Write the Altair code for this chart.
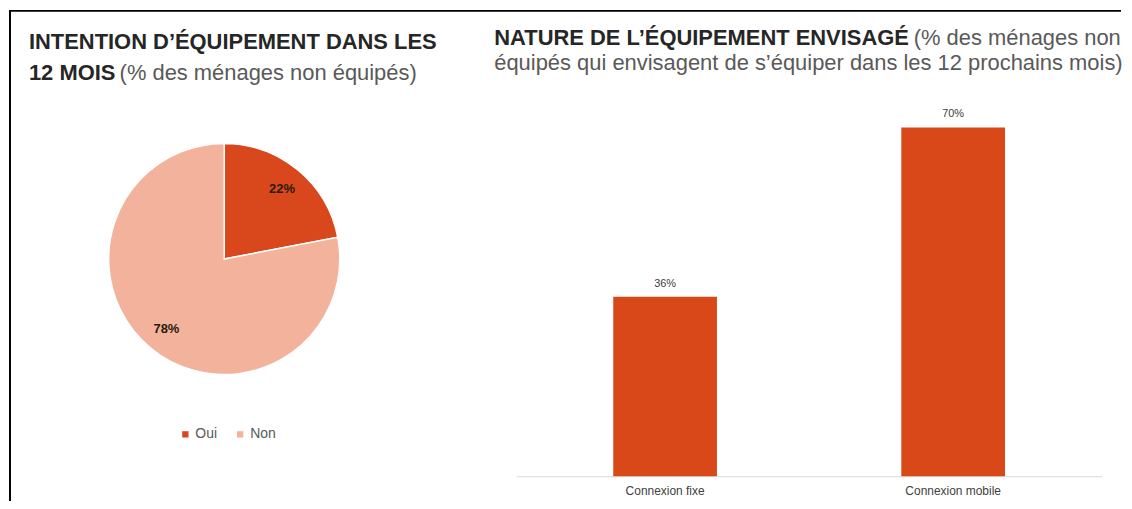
import altair as alt
import pandas as pd

# ---- data ----
pie_categories = ["Oui", "Non"]
pie_values = [22, 78]
pie_colors = ["#D9481C", "#F3B29B"]

bar_categories = ["Connexion fixe", "Connexion mobile"]
bar_values = [36, 70]
bar_color = "#D84818"

pie_df = pd.DataFrame({"cat": pie_categories, "value": pie_values, "ord": [0, 1]})
bar_df = pd.DataFrame({"cat": bar_categories, "value": bar_values})

W, H = 1116, 468
CX, CY = 216, 250

# ---- pie ----
pie_base = alt.Chart(pie_df).transform_calculate(label="datum.value + '%'")
arcs = pie_base.mark_arc(outerRadius=116, stroke="white", strokeWidth=1.5, x=CX, y=CY).encode(
    theta=alt.Theta("value:Q", stack=True),
    order=alt.Order("ord:Q"),
    color=alt.Color(
        "cat:N",
        scale=alt.Scale(domain=pie_categories, range=pie_colors),
        legend=alt.Legend(
            title=None, orient="none", legendX=170, legendY=419, direction="horizontal",
            symbolType="square", symbolSize=40, symbolStrokeWidth=0,
            labelFontSize=14, labelColor="#595959", labelFont="Liberation Sans",
            columnPadding=16, labelOffset=3, padding=0,
        ),
    ),
)
pie_text = pie_base.mark_text(radius=91, x=CX, y=CY, fontSize=13, fontWeight="bold",
                              font="Liberation Sans", color="#2a1a10").encode(
    theta=alt.Theta("value:Q", stack=True),
    order=alt.Order("ord:Q"),
    detail="cat:N",
    text="label:N",
)

# ---- bars ----
bar_base = alt.Chart(bar_df).transform_calculate(label="datum.value + '%'").encode(
    x=alt.X("cat:N", sort=bar_categories,
            scale=alt.Scale(range=[509, 1097], paddingInner=0.64, paddingOuter=0.337),
            axis=alt.Axis(title=None, ticks=False, labelAngle=0, labelPadding=9,
                          labelFontSize=12, labelColor="#404040", labelFont="Liberation Sans",
                          domainColor="#d9d9d9", domainWidth=1)),
    y=alt.Y("value:Q", scale=alt.Scale(domain=[0, 93.6]), axis=None),
)
bars = bar_base.mark_bar(color=bar_color)
bar_text = bar_base.mark_text(baseline="middle", dy=-13, fontSize=11,
                              font="Liberation Sans", color="#404040").encode(text="label:N")

# ---- titles ----
def txt(s, x, y, bold=False, color="#262626", size=22):
    return alt.Chart(pd.DataFrame({"t": [s]})).mark_text(
        align="left", baseline="alphabetic", fontSize=size, font="Liberation Sans",
        fontWeight="bold" if bold else "normal", color=color,
    ).encode(x=alt.value(x), y=alt.value(y), text="t:N")

titles = [
    txt("INTENTION D\u2019ÉQUIPEMENT DANS LES", 20, 39, bold=True),
    txt("12 MOIS", 20, 70, bold=True),
    txt("(% des ménages non équipés)", 111, 70, color="#595959"),
    txt("NATURE DE L\u2019ÉQUIPEMENT ENVISAGÉ", 487, 35, bold=True),
    txt("(% des ménages non", 908, 35, color="#595959"),
    txt("équipés qui envisagent de s\u2019équiper dans les 12 prochains mois)", 487, 60, color="#595959"),
]

# ---- frame ----
frame_left = alt.Chart(pd.DataFrame({"a": [0]})).mark_rule(color="#000000", strokeWidth=2).encode(
    x=alt.value(1), y=alt.value(0), y2=alt.value(493))
frame_top = alt.Chart(pd.DataFrame({"a": [0]})).mark_rule(color="#000000", strokeWidth=2).encode(
    x=alt.value(0), x2=alt.value(W), y=alt.value(1))

chart = alt.layer(
    frame_left, frame_top, arcs, pie_text, bars, bar_text, *titles
).properties(width=W, height=H, padding=0).configure_view(strokeWidth=0)

chart.save("out.html", embed_options={"renderer": "svg", "actions": False})
